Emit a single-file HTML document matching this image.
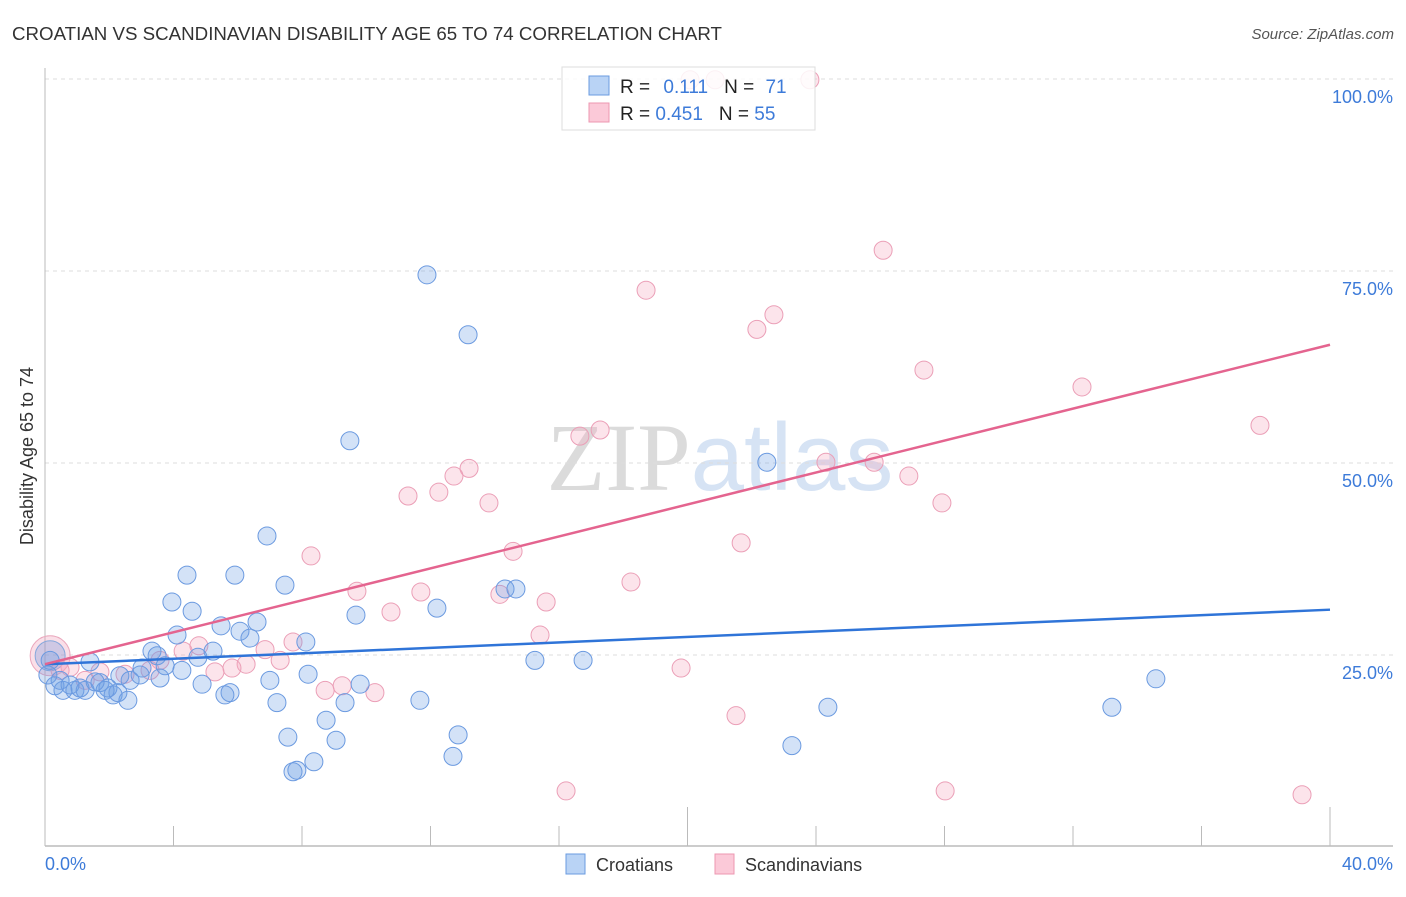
<!DOCTYPE html>
<html><head><meta charset="utf-8"><style>
body{margin:0;background:#fff;font-family:"Liberation Sans",sans-serif;}
</style></head><body>
<svg width="1406" height="892" xmlns="http://www.w3.org/2000/svg" font-family="Liberation Sans, sans-serif">
<text x="12" y="40" font-size="18" fill="#333" textLength="710" lengthAdjust="spacingAndGlyphs">CROATIAN VS SCANDINAVIAN DISABILITY AGE 65 TO 74 CORRELATION CHART</text>
<text x="1394" y="39" font-size="15" font-style="italic" fill="#555" text-anchor="end">Source: ZipAtlas.com</text>
<text transform="translate(33,456) rotate(-90)" font-size="18" fill="#333" text-anchor="middle">Disability Age 65 to 74</text>
<text x="720" y="490" font-size="96" fill="#ddd" text-anchor="middle" opacity="0.7"><tspan font-family="Liberation Serif, serif" fill="#ccc">ZIP</tspan><tspan fill="#c5d8f0">atlas</tspan></text>
<g id="grid"></g><g id="axes"></g><g id="marks"></g><g id="lines"></g>
<g>
<rect x="562" y="67" width="253" height="63" fill="#fff" fill-opacity="0.85" stroke="#ddd"/>
<rect x="589" y="76" width="20" height="19" fill="#b9d3f5" stroke="#6a9be0"/>
<rect x="589" y="103" width="20" height="19" fill="#fbc9d8" stroke="#ec97b1"/>
<text x="620" y="93" font-size="19" fill="#222">R = <tspan fill="#3d7bd9" dx="8">0.111</tspan><tspan dx="16" fill="#222">N = </tspan><tspan fill="#3d7bd9" dx="6">71</tspan></text>
<text x="620" y="120" font-size="19" fill="#222">R = <tspan fill="#3d7bd9">0.451</tspan><tspan dx="16" fill="#222">N = </tspan><tspan fill="#3d7bd9">55</tspan></text>
</g>
<text x="45" y="870" font-size="18" fill="#3d7bd9">0.0%</text>
<text x="1393" y="870" font-size="18" fill="#3d7bd9" text-anchor="end">40.0%</text>
<g>
<rect x="566" y="854" width="19" height="20" fill="#b9d3f5" stroke="#6a9be0"/>
<text x="596" y="871" font-size="18" fill="#333">Croatians</text>
<rect x="715" y="854" width="19" height="20" fill="#fbc9d8" stroke="#ec97b1"/>
<text x="745" y="871" font-size="18" fill="#333">Scandinavians</text>
</g>
</svg>
<script>
const blueX=[11.89,13.17,9.49,22.47,6.91,4.42,5.91,7.47,14.32,14.66,3.95,4.58,9.68,12.2,6.6,5.48,6.07,4.11,6.38,8.12,3.33,3.49,5.23,4.76,1.4,3.02,3.74,4.26,15.25,16.75,8.19,7.0,3.58,4.89,5.76,5.6,2.33,2.65,1.71,1.96,0.31,0.56,0.93,1.25,2.12,2.27,2.58,9.81,9.34,11.67,7.22,8.75,7.56,9.06,12.86,12.7,8.37,7.84,7.72,23.25,24.37,33.21,34.58,0.16,0.47,0.78,2.96,1.87,0.09,1.09,1.56];
const blueY=[74.5,66.7,52.9,50.1,40.5,35.4,35.4,34.1,33.6,33.6,31.9,30.7,30.2,31.1,29.3,28.8,28.1,27.6,27.2,26.7,25.5,24.9,25.5,24.7,24.1,23.3,23.6,23.0,24.3,24.3,22.5,21.7,22.0,21.2,20.1,19.8,22.3,21.7,21.4,20.7,21.0,20.4,20.4,20.4,19.8,20.1,19.1,21.2,18.8,19.1,18.8,16.5,14.3,13.9,14.6,11.8,11.1,10.0,9.8,13.2,18.2,18.2,21.9,24.3,21.7,21.1,22.4,20.4,22.4,20.7,21.5];
const pinkX=[20.86,23.81,20.08,26.09,18.71,22.69,22.16,27.36,32.28,37.82,16.65,17.28,13.2,12.73,24.31,25.81,26.89,11.3,12.26,13.82,27.92,21.67,14.57,8.28,18.24,9.71,11.7,14.16,15.6,10.77,15.41,7.72,4.79,4.3,6.85,7.32,6.26,5.82,5.29,3.58,2.49,1.71,0.78,19.8,8.72,9.25,10.27,21.51,16.22,28.02,39.13,1.25,0.47,3.27];
const pinkY=[99.9,99.9,99.9,77.7,72.5,69.3,67.4,62.1,59.9,54.9,53.5,54.3,49.3,48.3,50.1,50.1,48.3,45.7,46.2,44.8,44.8,39.6,38.5,37.9,34.5,33.3,33.2,32.9,31.9,30.6,27.6,26.7,26.2,25.5,25.7,24.3,23.8,23.3,22.8,24.3,22.5,22.8,23.4,23.3,20.4,21.0,20.1,17.1,7.3,7.3,6.8,21.7,23.0,23.0];
const bigPoint=[0.16,24.9];
const blueLine=[[0,23.8],[40,30.9]];
const pinkLine=[[0,23.8],[40,65.4]];
const yTicks=[25,50,75,100];
const xTicks=[0,4,8,12,16,20,24,28,32,36,40];
const NS="http://www.w3.org/2000/svg";
const sx=v=>45+v*32.125, sy=v=>847-v*7.68;
function mk(t,a,p){const e=document.createElementNS(NS,t);for(const k in a)e.setAttribute(k,a[k]);document.getElementById(p).appendChild(e);return e;}
yTicks.forEach(t=>{
 const l=mk('line',{x1:45,x2:1393,y1:sy(t),y2:sy(t),stroke:'#ddd','stroke-dasharray':'4,4'},'grid');
 
 
 const tx=mk('text',{x:1393,y:sy(t)+24,'font-size':18,fill:'#3d7bd9','text-anchor':'end'},'grid');
 tx.textContent=t.toFixed(1)+'%';
 
 
});
let a=mk('line',{x1:45,x2:45,y1:68,y2:846,stroke:'#bbb'},'axes');


a=mk('line',{x1:45,x2:1393,y1:846,y2:846,stroke:'#bbb','stroke-width':1.5},'axes');


xTicks.forEach((t,i)=>{
 const l=mk('line',{x1:sx(t),x2:sx(t),y1:(i==5||i==10)?807:826,y2:846,stroke:'#bbb'},'axes');
 
 
});
function dot(x,y,r,f,s,n){const c=mk('circle',{cx:sx(x),cy:sy(y),r:r,fill:f,stroke:s,'stroke-width':1},'marks');
 
 }
dot(bigPoint[0],bigPoint[1],20,'rgba(240,150,180,0.3)','#eaa8bd','scandinavian-point-large');
dot(bigPoint[0],bigPoint[1],15,'rgba(110,150,220,0.3)','#86a8dc','croatian-point-large');
pinkX.forEach((x,i)=>dot(x,pinkY[i],9,'rgba(245,165,190,0.3)','#eb9fb7','scandinavian-point'));
blueX.forEach((x,i)=>dot(x,blueY[i],9,'rgba(110,160,230,0.3)','#6b9ae0','croatian-point'));
let ln=mk('line',{x1:sx(blueLine[0][0]),y1:sy(blueLine[0][1]),x2:sx(blueLine[1][0]),y2:sy(blueLine[1][1]),stroke:'#2f74d8','stroke-width':2.5},'lines');


ln=mk('line',{x1:sx(pinkLine[0][0]),y1:sy(pinkLine[0][1]),x2:sx(pinkLine[1][0]),y2:sy(pinkLine[1][1]),stroke:'#e4648f','stroke-width':2.5},'lines');


</script>
</body></html>
